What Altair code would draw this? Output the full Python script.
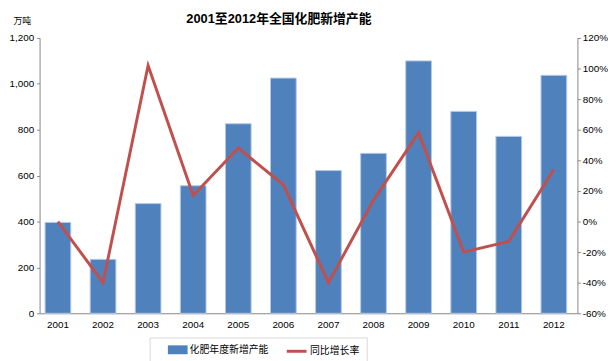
import altair as alt
import pandas as pd

years = ["2001", "2002", "2003", "2004", "2005", "2006", "2007", "2008", "2009", "2010", "2011", "2012"]
capacity = [396, 235, 478, 556, 826, 1025, 622, 697, 1100, 880, 771, 1037]
growth = [0, -40, 102, 17, 48, 24, -40, 14, 58, -20, -13, 34]
bar_name = "化肥年度新增产能"
line_name = "同比增长率"
left_ticks = [0, 200, 400, 600, 800, 1000, 1200]
right_ticks = [-60, -40, -20, 0, 20, 40, 60, 80, 100, 120]

df = pd.DataFrame({
    "year": years,
    "capacity": capacity,
    "growth": growth,
    "bar_s": [bar_name] * len(years),
    "line_s": [line_name] * len(years),
})

FONT = "Liberation Sans, Noto Sans CJK SC, sans-serif"
AX = "#868686"

x = alt.X("year:N", sort=years,
          scale=alt.Scale(paddingInner=0.43, paddingOuter=0.18, align=0.34),
          axis=alt.Axis(title=None, ticks=False, labelAngle=0, labelPadding=6,
                        domainColor=AX, labelFontSize=10, labelColor="#000000"))

bars = alt.Chart(df).mark_bar(stroke="#B4C7E7", strokeWidth=1).encode(
    x=x,
    y=alt.Y("capacity:Q",
            scale=alt.Scale(domain=[0, 1200], nice=False),
            axis=alt.Axis(values=left_ticks, format=",.0f", title="万吨", titleAngle=0,
                          titleX=-18, titleY=-18, titleAlign="center", titleBaseline="middle",
                          titleFontSize=9, titleFontWeight="normal", titleColor="#000000",
                          tickSize=3, labelPadding=3, domainColor=AX, tickColor=AX,
                          grid=False, labelFontSize=10, labelColor="#000000")),
    color=alt.Color("bar_s:N", scale=alt.Scale(range=["#4F81BD"]),
                    legend=alt.Legend(title=None, orient="none", legendX=130, legendY=306,
                                      symbolType="M-1,-0.45H1V0.45H-1Z", symbolSize=400,
                                      symbolStrokeWidth=0, labelFontSize=10, labelColor="#000000",
                                      padding=0, labelOffset=2)),
)

line = alt.Chart(df).mark_line(strokeWidth=3).encode(
    x=x,
    y=alt.Y("growth:Q",
            scale=alt.Scale(domain=[-60, 120], nice=False),
            axis=alt.Axis(values=right_ticks, labelExpr="datum.value + '%'", title=None,
                          orient="right", tickSize=3, labelPadding=2, domainColor=AX,
                          tickColor=AX, grid=False, labelFontSize=10, labelColor="#000000")),
    stroke=alt.Stroke("line_s:N", scale=alt.Scale(range=["#C0504D"]),
                      legend=alt.Legend(title=None, orient="none", legendX=249, legendY=306,
                                        symbolType="stroke", symbolSize=400, symbolStrokeWidth=3,
                                        labelFontSize=10, labelColor="#000000", padding=0,
                                        labelOffset=2)),
)

box = alt.Chart(pd.DataFrame({"k": [0]})).mark_rect(fill="white", fillOpacity=0, stroke="#D9D9D9").encode(
    x=alt.value(112), x2=alt.value(332), y=alt.value(304), y2=alt.value(332)
)

chart = alt.layer(bars, line, box).resolve_scale(y="independent", color="independent", stroke="independent").properties(
    width=545, height=279,
    autosize=alt.AutoSizeParams(type="none"),
    padding={"left": 32, "top": 28, "right": 31, "bottom": 46},
    title=alt.TitleParams("2001至2012年全国化肥新增产能", fontSize=13, fontWeight="bold",
                          anchor="middle", dx=-30, dy=22, offset=12, color="#000000"),
).configure(font=FONT).configure_view(stroke=None)

chart.save("out.html", embed_options={"renderer": "svg", "actions": False})
